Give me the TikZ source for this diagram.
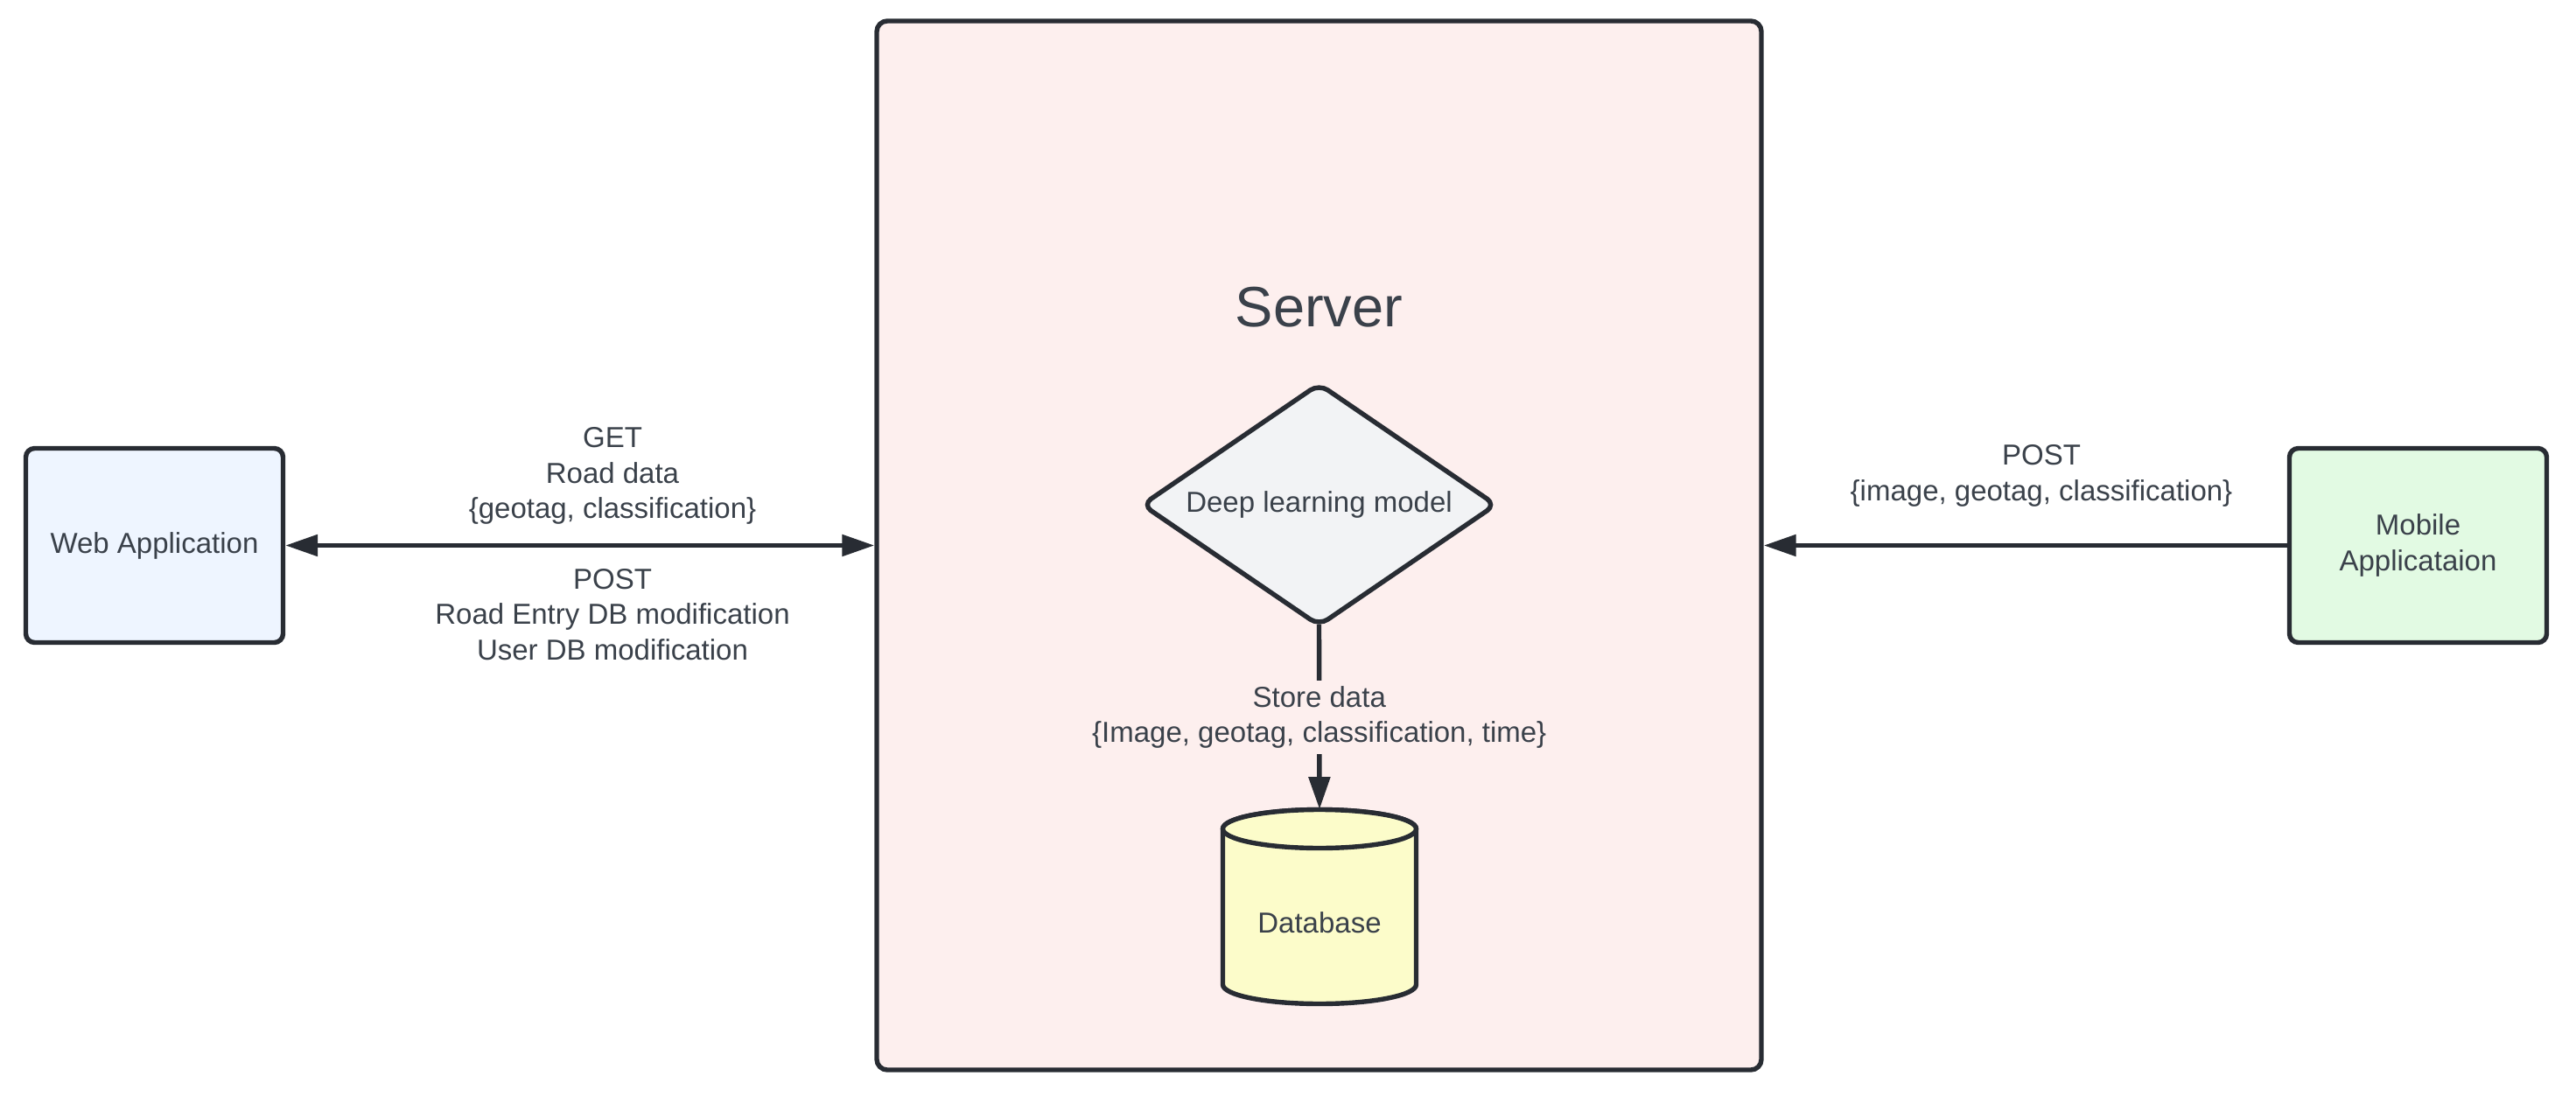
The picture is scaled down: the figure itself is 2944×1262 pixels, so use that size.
\documentclass[tikz,border=0pt]{standalone}
\usepackage{fontspec}
\setmainfont{Liberation Sans}
\usetikzlibrary{shapes.geometric,arrows.meta}
\definecolor{strk}{HTML}{282C33}
\definecolor{txt}{HTML}{3A414A}
\definecolor{webfill}{HTML}{EEF5FF}
\definecolor{mobfill}{HTML}{E2FAE3}
\definecolor{srvfill}{HTML}{FDEFEE}
\definecolor{dmdfill}{HTML}{F2F3F5}
\definecolor{dbfill}{HTML}{FCFCCA}
\begin{document}
\begin{tikzpicture}[x=0.5pt,y=-0.5pt,
  font=\fontsize{16.5pt}{20.3pt}\selectfont, text=txt,
  appbox/.style={draw=strk, line width=2.7pt, rounded corners=5pt,
    minimum width=147pt, minimum height=111pt, inner sep=0pt, align=center},
  conn/.style={draw=strk, line width=2.7pt, -{Triangle[length=18.5pt,width=12pt]}},
  lbl/.style={align=center, inner sep=1pt}]
\path[use as bounding box] (0,0) rectangle (2944,1262);
% server container
\node[draw=strk, fill=srvfill, line width=2.7pt, rounded corners=6pt,
  minimum width=505.5pt, minimum height=599.5pt, inner sep=0pt] (server) at (1507.5,623.5) {};
\node[font=\fontsize{32.5pt}{39pt}\selectfont] (title) at (1507.5,351) {Server};
% apps
\node[appbox, fill=webfill] (web) at (176.5,623.5) {Web Application};
\node[appbox, fill=mobfill] (mob) at (2763.5,623.5) {Mobile\\Applicataion};
% deep learning model
\node[diamond, draw=strk, fill=dmdfill, line width=2.7pt, rounded corners=6pt,
  shape aspect=1.46, minimum width=203pt, minimum height=139pt, inner sep=0pt] (dlm) at (1507.5,577) {Deep learning model};
% database
\node[minimum width=110.5pt, minimum height=111pt, inner sep=0pt] (db) at (1508,1036.5) {};
\draw[draw=strk, fill=dbfill, line width=2.7pt]
  (1397.5,947.5) -- (1397.5,1125.5)
  arc[start angle=180, end angle=360, x radius=55.25pt, y radius=11pt]
  -- (1618.5,947.5)
  arc[start angle=0, end angle=180, x radius=55.25pt, y radius=11pt] -- cycle;
\draw[draw=strk, fill=dbfill, line width=2.7pt] (1508,947.5) ellipse[x radius=55.25pt, y radius=11pt];
\node (dbl) at (1508,1055) {Database};
% connectors
\draw[conn, {Triangle[length=18.5pt,width=12pt]}-{Triangle[length=18.5pt,width=12pt]}] (web.east) -- (server.west);
\draw[conn] (mob.west) -- (server.east);
\draw[conn, shorten <=-2.5pt] (dlm.south) -- node[pos=0.49, fill=srvfill, lbl, inner sep=3pt] (storelbl)
  {Store data\\\{Image, geotag, classification, time\}} (db.north);
% edge labels
\node[lbl] (getlbl) at (700,544) {GET\\Road data\\\{geotag, classification\}};
\node[lbl] (postlbl) at (700,702.5) {POST\\Road Entry DB modification\\User DB modification};
\node[lbl] (moblbl) at (2333,544) {POST\\\{image, geotag, classification\}};
\end{tikzpicture}
\end{document}
